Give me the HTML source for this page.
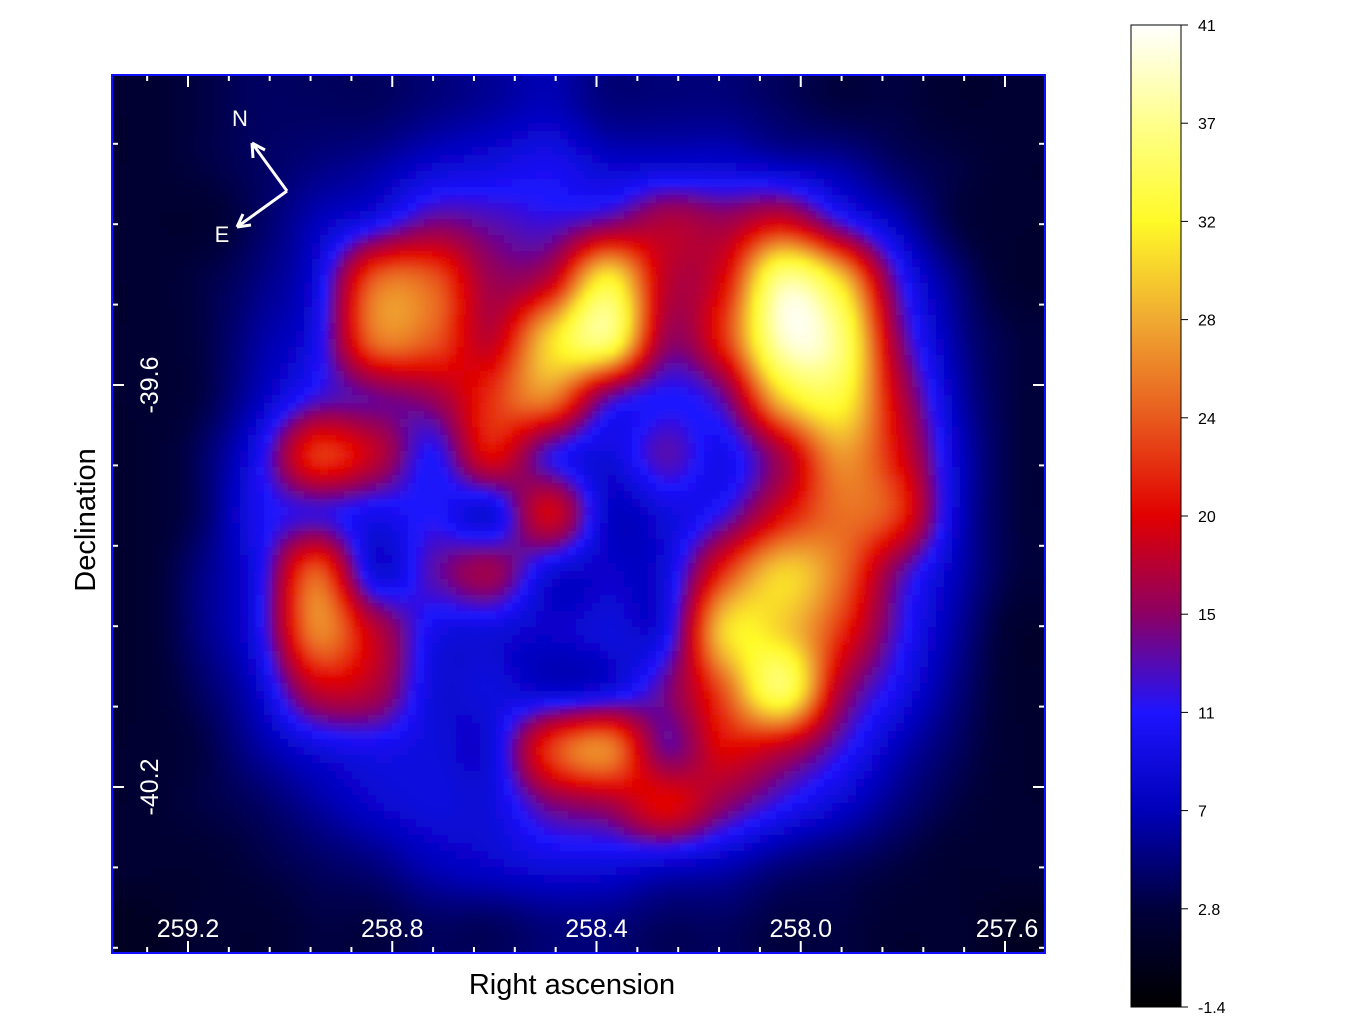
<!DOCTYPE html>
<html><head><meta charset="utf-8"><style>
body{margin:0;background:#fff;width:1350px;height:1035px;overflow:hidden;font-family:"Liberation Sans",sans-serif}
svg{position:absolute;left:0;top:0}
</style></head><body>
<svg id="chart" width="1350" height="1035">
<defs>
<filter id="blur" x="0" y="0" width="100%" height="100%"><feGaussianBlur stdDeviation="3"/></filter>
<clipPath id="clip"><rect x="112" y="75" width="933" height="878"/></clipPath>
<linearGradient id="cbar" x1="0" y1="1" x2="0" y2="0"></linearGradient>
</defs>
<rect x="112" y="75" width="933" height="878" fill="#000020"/>
<g clip-path="url(#clip)"><g id="cells" filter="url(#blur)"></g></g>
<g id="ticks"></g>
<rect x="112" y="75" width="933" height="878" fill="none" stroke="#1010ff" stroke-width="2"/>
<g stroke="#fff" stroke-width="3" fill="none">
<path d="M287 191 L252 143 M252 143 L253 158 M252 143 L265 150"/>
<path d="M287 191 L237 227 M237 227 L251 225 M237 227 L243 214"/>
</g>
<text x="240" y="126" fill="#fff" font-size="22" text-anchor="middle">N</text>
<text x="222" y="242" fill="#fff" font-size="22" text-anchor="middle">E</text>
<g id="xlabels" fill="#fff" font-size="25" text-anchor="middle"></g>
<g id="ylabels" fill="#fff" font-size="25" text-anchor="middle"></g>
<text x="572" y="994" font-size="29" text-anchor="middle" fill="#000">Right ascension</text>
<text transform="translate(95,520) rotate(-90)" font-size="29" text-anchor="middle" fill="#000">Declination</text>
<rect x="1131" y="25" width="50" height="982" fill="url(#cbar)" stroke="#000" stroke-width="1"/>
<g id="cbticks" font-size="16" fill="#000"></g>
</svg>
<script>
const vals = [
[2,3,4,4,4,5,6,7,5,5,5,4,3,3,2,2],
[2,3,4,5,6,8,9,10,8,8,8,7,6,4,3,2],
[2,2,4,7,10,14,13,12,14,17,16,19,12,7,3,2],
[2,3,5,9,24,24,16,18,32,18,20,37,30,12,5,2],
[2,3,6,10,25,24,18,30,36,16,22,39,36,15,6,3],
[2,3,7,12,14,16,22,26,14,11,14,30,33,18,7,3],
[2,4,10,22,18,11,20,12,9,13,10,17,27,20,8,3],
[2,4,10,12,10,11,9,19,8,9,12,20,25,22,8,3],
[2,5,10,24,9,13,16,9,8,9,22,30,25,14,7,3],
[2,5,10,26,18,10,9,8,9,10,30,30,22,12,6,2],
[2,4,8,18,17,9,9,8,9,14,24,35,17,10,5,2],
[2,3,6,9,10,9,9,22,26,14,20,18,12,7,4,2],
[2,3,4,6,8,9,9,14,16,20,15,11,8,5,3,2],
[2,2,3,4,5,7,8,9,9,8,7,5,4,3,2,2],
[1,2,2,3,3,4,4,5,5,4,4,3,3,2,2,1]];
const cbTicks = ["41","37","32","28","24","20","15","11","7","2.8","-1.4"];
const cbVals = [41,37,32,28,24,20,15,11,7,2.8,-1.4];
const xTickLabels = ["259.2","258.8","258.4","258.0","257.6"];
const xTickVals = [259.2,258.8,258.4,258.0,257.6];
const yTickLabels = ["-39.6","-40.2"];
const yTickVals = [-39.6,-40.2];

const stops=[[-1.4,[0,0,0]],[2.8,[0,0,60]],[7,[0,0,185]],[11,[30,20,255]],[15,[140,0,100]],[20,[225,0,0]],[24,[232,90,30]],[28,[240,170,50]],[32,[255,250,40]],[37,[255,255,140]],[41,[255,255,255]]];
function cmap(v){if(v<=stops[0][0])return 'rgb(0,0,0)';for(let i=1;i<stops.length;i++){if(v<=stops[i][0]){const a=stops[i-1],b=stops[i];const t=(v-a[0])/(b[0]-a[0]);return 'rgb('+a[1].map((c,k)=>Math.round(c+(b[1][k]-c)*t)).join(',')+')';}}return 'rgb(255,255,255)';}
const NS='http://www.w3.org/2000/svg';
const X0=112,Y0=75,W=933,H=878,nc=16,nr=15,cw=W/nc,ch=H/nr;
function cr(p0,p1,p2,p3,t){return 0.5*((2*p1)+(-p0+p2)*t+(2*p0-5*p1+4*p2-p3)*t*t+(-p0+3*p1-3*p2+p3)*t*t*t);}
function gv(i,j){i=Math.max(0,Math.min(nc-1,i));j=Math.max(0,Math.min(nr-1,j));return vals[j][i];}
function sample(px,py){
 const fx=(px-X0)/cw-0.5, fy=(py-Y0)/ch-0.5;
 const i=Math.floor(fx), j=Math.floor(fy), tx=fx-i, ty=fy-j;
 const rows=[];
 for(let m=-1;m<=2;m++){rows.push(cr(gv(i-1,j+m),gv(i,j+m),gv(i+1,j+m),gv(i+2,j+m),tx));}
 return cr(rows[0],rows[1],rows[2],rows[3],ty);
}
const cells=document.getElementById('cells');
const S=8;
for(let y=Y0-8;y<Y0+H+8;y+=S){for(let x=X0-8;x<X0+W+8;x+=S){
 const v=sample(x+S/2,y+S/2);
 const r=document.createElementNS(NS,'rect');
 r.setAttribute('x',x);r.setAttribute('y',y);r.setAttribute('width',S+0.5);r.setAttribute('height',S+0.5);
 r.setAttribute('fill',cmap(v));
 
 
 cells.appendChild(r);}}
const g=document.getElementById('cbar');
cbVals.slice().reverse().forEach((v,i)=>{const st=document.createElementNS(NS,'stop');st.setAttribute('offset',(i/10).toFixed(3));st.setAttribute('stop-color',cmap(v));g.appendChild(st);});
const cbg=document.getElementById('cbticks');
cbTicks.forEach((t,i)=>{const y=25+i*98.2;
 const l=document.createElementNS(NS,'line');l.setAttribute('x1',1181);l.setAttribute('x2',1188);l.setAttribute('y1',y);l.setAttribute('y2',y);l.setAttribute('stroke','#000');
 
 
 cbg.appendChild(l);
 const tx=document.createElementNS(NS,'text');tx.setAttribute('x',1198);tx.setAttribute('y',y+6);tx.textContent=t;
 
 
 cbg.appendChild(tx);});
const xs=v=>188+(259.2-v)/0.4*204.25;
const ys=v=>385+(-39.6-v)/0.6*402;
const tk=document.getElementById('ticks');
function line(x1,y1,x2,y2){const l=document.createElementNS(NS,'line');l.setAttribute('x1',x1);l.setAttribute('y1',y1);l.setAttribute('x2',x2);l.setAttribute('y2',y2);l.setAttribute('stroke','#fff');l.setAttribute('stroke-width',2);
 
 
 tk.appendChild(l);}
for(let k=-2;k<25;k++){const x=188+k*40.85;if(x<114||x>1043)continue;const L=(k%5==0)?12:6;line(x,75,x,75+L);line(x,953,x,953-L);}
for(let k=-3;k<10;k++){const y=385+k*80.4;if(y<78||y>950)continue;const L=(k%5==0)?12:6;line(112,y,112+L,y);line(1045,y,1045-L,y);}
const xl=document.getElementById('xlabels');
xTickLabels.forEach((t,i)=>{const tx=document.createElementNS(NS,'text');tx.setAttribute('x',xs(xTickVals[i])+(i==4?2:0));tx.setAttribute('y',937);tx.textContent=t;
 
 
 xl.appendChild(tx);});
const yl=document.getElementById('ylabels');
yTickLabels.forEach((t,i)=>{const y=ys(yTickVals[i]);const tx=document.createElementNS(NS,'text');tx.setAttribute('transform','translate(158,'+y+') rotate(-90)');tx.textContent=t;
 
 
 yl.appendChild(tx);});
</script>
</body></html>
